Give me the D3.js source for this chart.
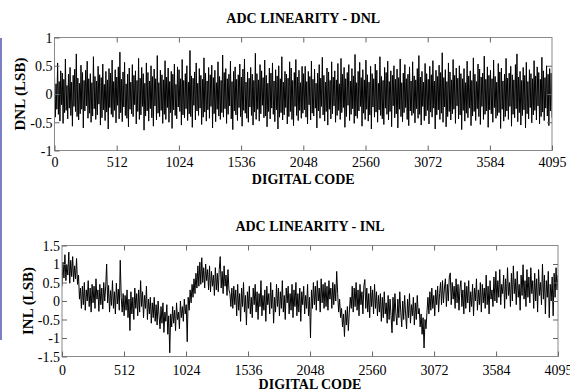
<!DOCTYPE html>
<html><head><meta charset="utf-8">
<script src="https://cdn.jsdelivr.net/npm/d3@7"></script>
<style>
html,body{margin:0;padding:0;background:#fff;}
svg{display:block;}
</style></head>
<body>
<svg id="chart" width="570" height="392"></svg>
<script>
// ---- data ----
const xTicks = [0, 512, 1024, 1536, 2048, 2560, 3072, 3584, 4095];
const dnlTicks = [-1, -0.5, 0, 0.5, 1];
const inlTicks = [-1.5, -1, -0.5, 0, 0.5, 1, 1.5];
// DNL, codes 0..2047
const dnlFirstHalf = [
0.32,-0.41,0.18,-0.27,0.55,-0.36,0.22,-0.48,0.41,-0.19,0.37,-0.52,0.26,-0.33,0.62,-0.29,0.15,-0.44,0.35,-0.25,
0.47,-0.38,0.21,-0.57,0.33,-0.22,0.44,-0.31,0.71,-0.40,0.28,-0.46,0.19,-0.35,0.51,-0.27,0.38,-0.60,0.24,-0.30,
0.42,-0.21,0.58,-0.43,0.27,-0.34,0.36,-0.50,0.20,-0.39,0.66,-0.26,0.31,-0.45,0.23,-0.37,0.49,-0.18,0.34,-0.55,
0.29,-0.42,0.53,-0.28,0.17,-0.47,0.40,-0.32,0.25,-0.62,0.45,-0.24,0.37,-0.36,0.60,-0.41,0.22,-0.29,0.43,-0.51,
0.30,-0.20,0.48,-0.44,0.74,-0.33,0.26,-0.49,0.39,-0.23,0.56,-0.38,0.18,-0.43,0.35,-0.58,0.46,-0.27,0.21,-0.35,
0.52,-0.40,0.33,-0.19,0.41,-0.53,0.24,-0.31,0.63,-0.45,0.28,-0.37,0.47,-0.22,0.36,-0.64,0.19,-0.39,0.55,-0.30,
0.38,-0.48,0.23,-0.26,0.50,-0.42,0.31,-0.57,0.44,-0.21,0.27,-0.46,0.68,-0.34,0.20,-0.40,0.42,-0.29,0.34,-0.52,
0.25,-0.36,0.59,-0.45,0.30,-0.24,0.46,-0.50,0.22,-0.33,0.40,-0.61,0.35,-0.28,0.53,-0.38,0.17,-0.44,0.48,-0.23,
0.43,-0.31,0.27,-0.55,0.61,-0.37,0.24,-0.42,0.36,-0.26,0.50,-0.47,0.21,-0.35,0.77,-0.40,0.32,-0.59,0.28,-0.20,
0.39,-0.46,0.55,-0.30,0.19,-0.38,0.45,-0.25,0.33,-0.54,0.26,-0.41,0.64,-0.32,0.37,-0.48,0.23,-0.28,0.47,-0.43,
0.34,-0.22,0.51,-0.60,0.29,-0.35,0.42,-0.49,0.20,-0.27,0.57,-0.39,0.31,-0.45,0.24,-0.33,0.69,-0.41,0.38,-0.26,
0.45,-0.52,0.27,-0.36,0.35,-0.21,0.58,-0.44,0.22,-0.63,0.40,-0.30,0.48,-0.37,0.26,-0.47,0.34,-0.24,0.53,-0.40,
0.30,-0.57,0.44,-0.29,0.62,-0.34,0.21,-0.43,0.39,-0.50,0.28,-0.23,0.47,-0.38,0.35,-0.55,0.24,-0.32,0.72,-0.45,
0.36,-0.27,0.25,-0.48,0.52,-0.35,0.41,-0.20,0.29,-0.42,0.60,-0.39,0.33,-0.58,0.19,-0.31,0.46,-0.44,0.37,-0.25,
0.55,-0.36,0.23,-0.49,0.43,-0.28,0.32,-0.62,0.50,-0.41,0.27,-0.33,0.66,-0.46,0.21,-0.37,0.40,-0.24,0.35,-0.53,
0.28,-0.40,0.57,-0.31,0.46,-0.45,0.24,-0.56,0.38,-0.22,0.61,-0.38,0.30,-0.47,0.42,-0.29,0.20,-0.43,0.49,-0.34
];
// DNL, codes 2048..4095
const dnlSecondHalf = [
0.36,-0.28,0.49,-0.41,0.22,-0.53,0.40,-0.19,0.31,-0.46,0.58,-0.34,0.26,-0.39,0.44,-0.25,0.19,-0.60,0.37,-0.30,
0.52,-0.43,0.28,-0.22,0.65,-0.37,0.33,-0.48,0.21,-0.31,0.46,-0.55,0.39,-0.27,0.24,-0.44,0.57,-0.35,0.30,-0.21,
0.41,-0.50,0.25,-0.38,0.54,-0.29,0.18,-0.45,0.63,-0.33,0.35,-0.24,0.47,-0.59,0.27,-0.40,0.38,-0.20,0.52,-0.47,
0.23,-0.36,0.45,-0.26,0.32,-0.52,0.70,-0.39,0.20,-0.43,0.40,-0.30,0.56,-0.22,0.29,-0.57,0.43,-0.34,0.25,-0.45,
0.60,-0.27,0.34,-0.48,0.21,-0.37,0.49,-0.62,0.36,-0.23,0.27,-0.41,0.53,-0.32,0.42,-0.50,0.19,-0.28,0.66,-0.38,
0.31,-0.44,0.24,-0.54,0.47,-0.25,0.38,-0.36,0.58,-0.46,0.22,-0.31,0.41,-0.58,0.33,-0.21,0.50,-0.42,0.26,-0.35,
0.44,-0.60,0.29,-0.27,0.62,-0.40,0.20,-0.49,0.37,-0.33,0.52,-0.24,0.27,-0.45,0.35,-0.56,0.48,-0.30,0.23,-0.38,
0.57,-0.34,0.32,-0.51,0.25,-0.26,0.45,-0.43,0.68,-0.36,0.30,-0.55,0.40,-0.22,0.21,-0.47,0.54,-0.39,0.36,-0.29,
0.26,-0.53,0.49,-0.32,0.34,-0.41,0.59,-0.25,0.23,-0.62,0.42,-0.37,0.31,-0.28,0.51,-0.45,0.38,-0.34,0.73,-0.50,
0.29,-0.23,0.43,-0.58,0.22,-0.40,0.55,-0.31,0.39,-0.46,0.25,-0.35,0.61,-0.27,0.33,-0.52,0.46,-0.21,0.28,-0.44,
0.50,-0.37,0.36,-0.63,0.27,-0.29,0.45,-0.48,0.20,-0.34,0.58,-0.42,0.32,-0.25,0.41,-0.56,0.24,-0.39,0.64,-0.31,
0.35,-0.47,0.22,-0.26,0.53,-0.40,0.44,-0.54,0.30,-0.22,0.37,-0.45,0.67,-0.36,0.26,-0.30,0.48,-0.59,0.33,-0.28,
0.42,-0.35,0.27,-0.50,0.60,-0.24,0.31,-0.43,0.21,-0.38,0.54,-0.33,0.39,-0.61,0.46,-0.27,0.23,-0.48,0.35,-0.40,
0.63,-0.30,0.28,-0.45,0.37,-0.22,0.49,-0.57,0.34,-0.36,0.25,-0.42,0.52,-0.26,0.71,-0.49,0.30,-0.33,0.40,-0.55,
0.24,-0.38,0.47,-0.28,0.33,-0.60,0.56,-0.35,0.22,-0.44,0.43,-0.24,0.36,-0.51,0.27,-0.37,0.59,-0.29,0.32,-0.46,
0.48,-0.21,0.38,-0.53,0.26,-0.40,0.65,-0.32,0.41,-0.47,0.29,-0.25,0.50,-0.39,0.35,-0.56,0.45,-0.30,0.37,-0.42
];
const inlValues = [
0.40,1.05,0.62,1.25,0.55,0.98,0.70,1.32,0.48,1.10,0.66,1.20,0.52,0.95,0.60,1.15,
0.45,0.70,0.05,0.35,-0.20,0.40,-0.10,0.50,-0.25,0.30,0.00,0.55,-0.15,0.35,-0.30,0.45,
-0.05,0.40,-0.20,0.60,0.05,0.30,-0.28,0.45,-0.10,0.35,-0.22,0.50,0.00,0.38,1.00,-0.05,
0.42,-0.30,0.28,-0.12,0.55,-0.20,0.25,-0.35,0.48,-0.08,0.32,-0.25,1.10,0.10,-0.30,0.20,
-0.40,0.15,-0.25,0.30,-0.45,0.05,-0.80,0.25,-0.35,0.10,-0.50,0.35,-0.20,0.20,-0.40,0.30,
-0.30,0.55,-0.15,0.25,-0.45,0.15,-0.20,0.40,-0.50,0.05,-0.35,0.10,-0.60,-0.05,-0.45,0.10,
-0.55,-0.10,-0.65,0.00,-0.40,-0.75,-0.15,-0.60,-0.05,-0.85,-0.30,-0.55,-0.10,-0.90,-0.40,-1.40,
-0.35,-0.70,-0.15,-0.60,-0.25,-0.80,-0.05,-0.50,-0.30,-0.75,0.00,-0.45,-0.15,-0.55,0.05,-0.35,
-0.10,-1.10,0.10,-0.25,0.30,-0.05,0.45,0.10,0.60,0.20,0.75,0.35,0.95,0.40,1.05,0.45,
1.17,0.50,0.90,0.35,1.00,0.55,0.85,0.30,0.95,0.25,0.80,0.40,0.70,0.15,0.90,0.30,
0.75,0.25,0.85,1.20,0.35,0.80,0.20,0.95,0.40,0.70,0.15,0.85,0.30,0.20,-0.15,0.35,
-0.20,0.40,-0.10,0.30,-0.40,0.45,-0.25,0.20,-0.55,0.35,-0.15,0.50,-0.30,0.15,-0.65,0.25,
-0.20,0.40,-0.35,0.10,-0.45,0.35,-0.10,0.45,-0.30,0.25,-0.50,0.20,-0.15,0.55,-0.40,0.15,
-0.25,0.30,-0.55,0.40,-0.10,0.20,-0.35,0.50,-0.20,0.30,-0.60,0.10,-0.30,0.45,-0.15,0.35,
-0.40,0.25,-0.20,0.55,-0.30,0.15,-0.50,0.35,-0.05,0.40,-0.35,0.20,-0.25,0.45,-0.45,0.30,
-0.15,0.50,-0.40,0.20,-0.30,0.35,-0.55,0.25,-0.10,0.40,-0.35,0.15,-0.20,0.45,-0.40,0.10,
-1.00,0.30,-0.20,0.50,-0.10,0.40,-0.25,0.55,0.00,0.35,-0.30,0.60,-0.05,0.45,-0.20,0.50,
-0.15,0.40,-0.25,0.55,0.05,0.35,-0.20,0.50,-0.10,0.45,0.00,0.80,0.20,-0.30,0.05,-0.45,
-0.20,-0.70,-0.35,-0.96,-0.25,-0.65,-0.15,-0.80,-0.30,0.10,-0.20,0.40,-0.30,0.35,-0.15,0.50,
-0.25,0.30,-0.40,0.45,-0.10,0.25,-0.35,0.40,0.58,-0.20,0.35,-0.30,0.20,-0.45,0.40,-0.15,
0.30,-0.35,0.45,-0.20,0.25,-0.40,0.15,-0.30,0.20,-0.55,0.10,-0.45,0.25,-0.35,-0.05,-0.60,
0.15,-0.50,0.05,-0.40,-0.86,0.10,-0.55,0.20,-0.35,-0.65,0.05,-0.45,0.25,-0.30,-0.70,0.00,
-0.50,0.15,-0.35,-0.75,0.05,-0.45,0.20,-0.60,-0.10,-0.40,0.10,-0.65,-0.05,-0.50,0.15,-0.35,
-0.20,-0.70,-0.35,-0.90,-0.45,-1.27,-0.50,-0.75,-0.30,0.10,-0.35,0.25,-0.25,0.35,-0.20,0.15,
-0.40,0.30,-0.10,0.40,-0.30,0.20,0.50,-0.10,0.55,-0.05,0.35,0.60,-0.15,0.45,0.00,0.65,
0.76,-0.10,0.50,0.05,0.40,-0.20,0.60,-0.05,0.45,-0.25,0.35,0.55,-0.15,0.30,-0.35,0.50,
-0.20,0.40,-0.05,0.55,-0.30,0.25,-0.15,0.45,-0.40,0.35,0.00,0.60,-0.25,0.30,-0.10,0.50,
-0.30,0.45,-0.05,0.35,-0.20,0.70,-0.10,0.40,-0.35,0.55,0.05,0.30,-0.15,0.65,0.00,0.80,
-0.05,0.55,0.10,0.85,-0.10,0.45,0.20,0.70,-0.20,0.60,0.05,0.90,0.15,0.50,-0.15,0.75,
0.00,0.95,0.20,0.60,-0.10,0.80,0.10,0.45,-0.25,0.70,0.15,0.98,0.05,0.55,-0.15,0.85,
0.10,0.65,-0.05,0.90,0.20,0.55,-0.20,0.75,0.00,0.60,-0.30,0.85,0.15,0.50,-0.10,1.00,
0.05,0.70,-0.35,0.55,0.10,0.80,-0.45,0.45,0.00,0.65,-0.40,0.75,0.10,0.90,0.30,0.70
];
const dnlValues = dnlFirstHalf.concat(dnlSecondHalf);

const panels = [
  {title:"ADC LINEARITY - DNL", ylabel:"DNL (LSB)", values:dnlValues, yDomain:[-1,1], yTicks:dnlTicks,
   left:54.5, right:552, top:37.5, bottom:150.5, titleY:23, xlabY:184, tickLabY:167, ylabX:25},
  {title:"ADC LINEARITY - INL", ylabel:"INL (LSB)", values:inlValues, yDomain:[-1.5,1.5], yTicks:inlTicks,
   left:62, right:558, top:245.5, bottom:356.5, titleY:231, xlabY:389, tickLabY:375, ylabX:33}
];
const FONT = '"Times New Roman", "Liberation Serif", serif';

const svg = d3.select("#chart");
svg.append("rect").attr("x",0).attr("y",38).attr("width",2).attr("height",302).attr("fill","#7b7fc4");

panels.forEach((p, k) => {
  const x = d3.scaleLinear().domain([0,4095]).range([p.left,p.right]);
  const y = d3.scaleLinear().domain(p.yDomain).range([p.bottom,p.top]);
  const n = p.values.length;
  const pts = p.values.map((v,i)=>({code: i*4095/(n-1), v}));
  const g = svg.append("g");
  const cid = "clip"+k;
  svg.append("clipPath").attr("id",cid).append("rect")
    .attr("x",p.left).attr("y",p.top).attr("width",p.right-p.left).attr("height",p.bottom-p.top);
  g.append("path").datum(pts)
    .attr("clip-path","url(#"+cid+")")
    .attr("fill","none").attr("stroke","#000").attr("stroke-width",1)
    .attr("d", d3.line().x(d=>x(d.code)).y(d=>y(d.v)));

  g.append("rect").attr("x",p.left).attr("y",p.top).attr("width",p.right-p.left).attr("height",p.bottom-p.top)
    .attr("fill","none").attr("stroke","#8a8a8a").attr("stroke-width",1);

  const tl = 5;
  const axB = d3.axisBottom(x).tickValues(xTicks).tickSize(-tl).tickPadding(0).tickFormat(d3.format("d"));
  const gb = g.append("g").attr("transform","translate(0,"+p.bottom+")").call(axB);
  gb.select(".domain").remove();
  gb.selectAll("line").attr("stroke","#666");
  gb.selectAll("text").attr("y", p.tickLabY - p.bottom).attr("dy",0).attr("font-size",14);
  const axT = d3.axisTop(x).tickValues(xTicks.slice(1,-1)).tickSize(-tl).tickFormat("");
  const gt = g.append("g").attr("transform","translate(0,"+p.top+")").call(axT);
  gt.select(".domain").remove();
  gt.selectAll("line").attr("stroke","#666");

  const axL = d3.axisLeft(y).tickValues(p.yTicks).tickSize(-tl).tickPadding(0).tickFormat(d=>String(d));
  const gl = g.append("g").attr("transform","translate("+p.left+",0)").call(axL);
  gl.select(".domain").remove();
  gl.selectAll("line").attr("stroke","#666");
  gl.selectAll("text").attr("x",-2).attr("dy","0.35em").attr("font-size",14);
  const axR = d3.axisRight(y).tickValues(p.yTicks.slice(1,-1)).tickSize(-tl).tickFormat("");
  const gr = g.append("g").attr("transform","translate("+p.right+",0)").call(axR);
  gr.select(".domain").remove();
  gr.selectAll("line").attr("stroke","#666");

  svg.append("text").attr("x",(p.left+p.right)/2).attr("y",p.titleY).attr("text-anchor","middle")
    .attr("font-weight","bold").attr("font-size",14).text(p.title);
  svg.append("text").attr("x",(p.left+p.right)/2).attr("y",p.xlabY).attr("text-anchor","middle")
    .attr("font-weight","bold").attr("font-size",14).text("DIGITAL CODE");
  svg.append("text").attr("transform","translate("+p.ylabX+","+((p.top+p.bottom)/2)+") rotate(-90)")
    .attr("text-anchor","middle").attr("font-weight","bold").attr("font-size",15).text(p.ylabel);
});
svg.selectAll("g").attr("font-family", null);
svg.selectAll("text").attr("font-family", FONT).attr("fill","#000");
</script>
</body></html>
